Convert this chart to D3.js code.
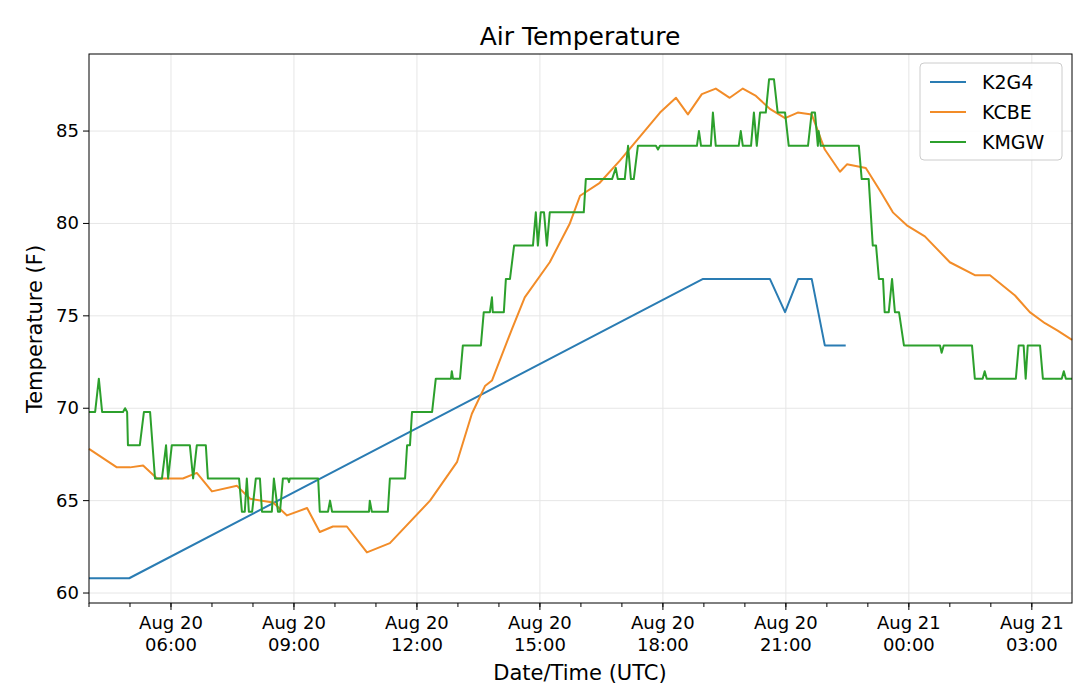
<!DOCTYPE html>
<html>
<head>
<meta charset="utf-8">
<script src="https://cdn.jsdelivr.net/npm/d3@7"></script>
<style>
  body { margin: 0; background: #fff; font-family: "DejaVu Sans", sans-serif; }
</style>
</head>
<body>
<svg id="chart" width="1080" height="698"></svg>
<script>
// hours after Aug 20 00:00 UTC, temperature (F)
const k2g4Hours = [4.00, 4.98, 18.98, 20.61, 20.98, 21.30, 21.63, 21.95, 22.46];
const k2g4Temps = [60.8, 60.8, 77.0, 77.0, 75.2, 77.0, 77.0, 73.4, 73.4];

const kcbeHours = [4.00, 4.68, 5.00, 5.32, 5.66, 6.29, 6.63, 7.00, 7.61, 7.93, 8.49, 8.83, 9.32, 9.63, 9.95,
  10.29, 10.78, 11.34, 12.32, 12.98, 13.34, 13.66, 13.83, 14.32, 14.63, 15.24, 15.73, 15.98, 16.46, 16.95,
  17.44, 17.93, 18.32, 18.61, 18.95, 19.29, 19.63, 19.95, 20.27, 20.61, 20.98, 21.29, 21.63, 21.95, 22.32,
  22.49, 22.95, 23.29, 23.61, 23.95, 24.39, 25.00, 25.61, 25.98, 26.59, 26.95, 27.32, 27.63, 27.98];
const kcbeTemps = [67.8, 66.8, 66.8, 66.9, 66.2, 66.2, 66.5, 65.5, 65.8, 65.1, 64.9, 64.2, 64.6, 63.3, 63.6,
  63.6, 62.2, 62.7, 65.0, 67.1, 69.7, 71.2, 71.5, 74.3, 76.0, 77.9, 80.0, 81.5, 82.2, 83.4,
  84.7, 86.0, 86.8, 85.9, 87.0, 87.3, 86.8, 87.3, 86.9, 86.2, 85.7, 86.0, 85.9, 84.0, 82.8,
  83.2, 83.0, 81.8, 80.6, 79.9, 79.3, 77.9, 77.2, 77.2, 76.1, 75.2, 74.6, 74.2, 73.7];

const kmgwHours = [4.00, 4.15, 4.24, 4.32, 4.83, 4.88, 4.93, 4.95, 5.24, 5.34, 5.49, 5.61, 5.78, 5.88, 5.93,
  6.02, 6.46, 6.54, 6.63, 6.85, 6.90, 7.66, 7.73, 7.80, 7.85, 7.90, 7.98, 8.07, 8.17, 8.22, 8.46, 8.51,
  8.61, 8.66, 8.73, 8.85, 8.88, 8.90, 9.59, 9.63, 9.83, 9.88, 9.93, 10.83, 10.85, 10.90, 11.29, 11.34,
  11.71, 11.76, 11.83, 11.88, 12.37, 12.46, 12.83, 12.85, 12.88, 13.05, 13.12, 13.56, 13.63, 13.78, 13.83,
  13.85, 14.12, 14.17, 14.27, 14.37, 14.83, 14.90, 14.95, 15.02, 15.10, 15.17, 15.24, 16.07, 16.12, 16.76,
  16.85, 16.90, 17.07, 17.15, 17.22, 17.29, 17.39, 17.83, 17.88, 17.93, 18.83, 18.88, 18.93, 19.17, 19.22,
  19.29, 19.85, 19.90, 19.95, 20.15, 20.22, 20.29, 20.37, 20.51, 20.59, 20.71, 20.80, 20.98, 21.07, 21.54,
  21.63, 21.71, 21.78, 21.80, 21.85, 22.78, 22.85, 23.02, 23.12, 23.20, 23.27, 23.37, 23.41, 23.51, 23.59,
  23.66, 23.76, 23.88, 24.76, 24.80, 24.85, 25.54, 25.61, 25.80, 25.85, 25.90, 26.61, 26.68, 26.80, 26.85,
  26.90, 27.20, 27.27, 27.73, 27.78, 27.83, 27.98];
const kmgwTemps = [69.8, 69.8, 71.6, 69.8, 69.8, 70.0, 69.8, 68.0, 68.0, 69.8, 69.8, 66.2, 66.2, 68.0, 66.2,
  68.0, 68.0, 66.2, 68.0, 68.0, 66.2, 66.2, 64.4, 64.4, 66.2, 64.4, 64.4, 66.2, 66.2, 64.4, 64.4, 66.2,
  64.4, 64.4, 66.2, 66.2, 66.0, 66.2, 66.2, 64.4, 64.4, 65.0, 64.4, 64.4, 65.0, 64.4, 64.4, 66.2,
  66.2, 68.0, 68.0, 69.8, 69.8, 71.6, 71.6, 72.0, 71.6, 71.6, 73.4, 73.4, 75.2, 75.2, 76.0,
  75.2, 75.2, 77.0, 77.0, 78.8, 78.8, 80.6, 78.8, 80.6, 80.6, 78.8, 80.6, 80.6, 82.4, 82.4,
  83.0, 82.4, 82.4, 84.2, 82.4, 82.4, 84.2, 84.2, 84.0, 84.2, 84.2, 85.0, 84.2, 84.2, 86.0,
  84.2, 84.2, 85.0, 84.2, 84.2, 86.0, 84.2, 86.0, 86.0, 87.8, 87.8, 86.0, 86.0, 84.2, 84.2,
  86.0, 86.0, 84.2, 85.0, 84.2, 84.2, 82.4, 82.4, 78.8, 78.8, 77.0, 77.0, 75.2, 75.2, 77.0,
  75.2, 75.2, 73.4, 73.4, 73.0, 73.4, 73.4, 71.6, 71.6, 72.0, 71.6, 71.6, 73.4, 73.4, 71.6,
  73.4, 73.4, 71.6, 71.6, 72.0, 71.6, 71.6];

const yTicks = [60, 65, 70, 75, 80, 85];
const stations = ["K2G4", "KCBE", "KMGW"];
const colors = ["#2a7cb3", "#f28c28", "#2ca02c"];

const base = Date.UTC(2020, 7, 20);
const toDate = h => new Date(base + h * 3600000);
const series = [
  d3.zip(k2g4Hours, k2g4Temps),
  d3.zip(kcbeHours, kcbeTemps),
  d3.zip(kmgwHours, kmgwTemps)
];

const svg = d3.select("#chart");
const m = { left: 89, right: 1072, top: 54, bottom: 603 };

const x = d3.scaleUtc().domain([toDate(4), toDate(27.98)]).range([m.left, m.right]);
const y = d3.scaleLinear().domain([59.46, 89.17]).range([m.bottom, m.top]);

const major = d3.range(6, 28, 3).map(toDate);
const minor = d3.range(4, 28, 1).map(toDate);

// grid
svg.append("g").selectAll("line").data(major).join("line")
  .attr("x1", d => x(d)).attr("x2", d => x(d)).attr("y1", m.top).attr("y2", m.bottom)
  .attr("stroke", "#e6e6e6");
svg.append("g").selectAll("line").data(yTicks).join("line")
  .attr("x1", m.left).attr("x2", m.right).attr("y1", d => y(d)).attr("y2", d => y(d))
  .attr("stroke", "#e6e6e6");

// lines
const line = d3.line().x(d => x(toDate(d[0]))).y(d => y(d[1]));
series.forEach((s, i) => {
  svg.append("path").datum(s).attr("d", line)
    .attr("fill", "none").attr("stroke", colors[i]).attr("stroke-width", 2)
    .attr("stroke-linejoin", "round");
});

// frame
svg.append("rect").attr("x", m.left).attr("y", m.top)
  .attr("width", m.right - m.left).attr("height", m.bottom - m.top)
  .attr("fill", "none").attr("stroke", "#000").attr("stroke-width", 1);

// x axis
const fmtDay = d3.utcFormat("%b %d"), fmtTime = d3.utcFormat("%H:%M");
const xa = svg.append("g").attr("transform", `translate(0,${m.bottom})`);
xa.selectAll("line.mi").data(minor).join("line").attr("class", "mi")
  .attr("x1", d => x(d)).attr("x2", d => x(d)).attr("y1", 0).attr("y2", 4).attr("stroke", "#000");
xa.selectAll("line.ma").data(major).join("line").attr("class", "ma")
  .attr("x1", d => x(d)).attr("x2", d => x(d)).attr("y1", 0).attr("y2", 7).attr("stroke", "#000");
const tl = xa.selectAll("text").data(major).join("text")
  .attr("x", d => x(d)).attr("text-anchor", "middle").attr("font-size", 18);
tl.append("tspan").attr("x", d => x(d)).attr("y", 26).text(d => fmtDay(d));
tl.append("tspan").attr("x", d => x(d)).attr("y", 48).text(d => fmtTime(d));

// y axis
const ya = svg.append("g");
ya.selectAll("line").data(yTicks).join("line")
  .attr("x1", m.left - 6).attr("x2", m.left).attr("y1", d => y(d)).attr("y2", d => y(d)).attr("stroke", "#000");
ya.selectAll("text").data(yTicks).join("text")
  .attr("x", m.left - 10).attr("y", d => y(d) + 6).attr("text-anchor", "end").attr("font-size", 18)
  .text(d => d);

svg.append("text").attr("x", 580).attr("y", 45).attr("text-anchor", "middle")
  .attr("font-size", 25).text("Air Temperature");
svg.append("text").attr("x", 580).attr("y", 680).attr("text-anchor", "middle")
  .attr("font-size", 21).text("Date/Time (UTC)");
svg.append("text").attr("transform", "translate(42,329) rotate(-90)").attr("text-anchor", "middle")
  .attr("font-size", 21).text("Temperature (F)");

// legend
const lg = svg.append("g").attr("transform", "translate(920,63)");
lg.append("rect").attr("width", 142).attr("height", 97).attr("rx", 4)
  .attr("fill", "#fff").attr("fill-opacity", 0.85).attr("stroke", "#ccc");
stations.forEach((s, i) => {
  const yy = 19 + i * 30;
  lg.append("line").attr("x1", 10).attr("x2", 46).attr("y1", yy).attr("y2", yy)
    .attr("stroke", colors[i]).attr("stroke-width", 2);
  lg.append("text").attr("x", 62).attr("y", yy + 7).attr("font-size", 19).text(s);
});
</script>
</body>
</html>
